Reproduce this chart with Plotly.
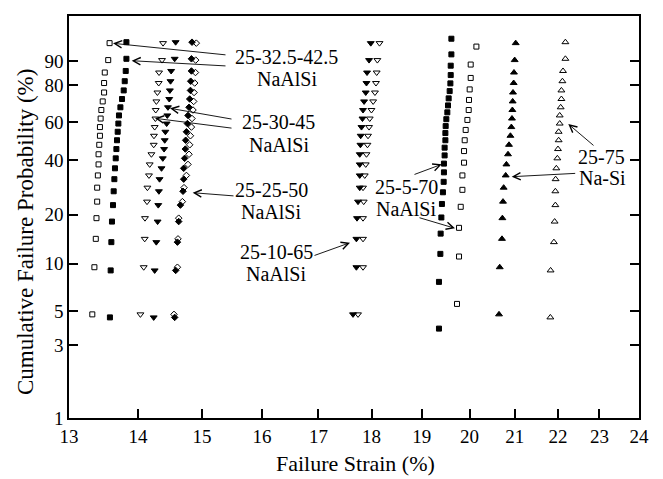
import numpy as np
import plotly.graph_objects as go

# ---------------- data ----------------
# cumulative failure probabilities (%) for the sample sizes used
F17 = [5.56, 11.11, 16.67, 22.22, 27.78, 33.33, 38.89, 44.44, 50.00, 55.56,
       61.11, 66.67, 72.22, 77.78, 83.33, 88.89, 94.44]
F20 = [4.76, 9.52, 14.29, 19.05, 23.81, 28.57, 33.33, 38.10, 42.86, 47.62,
       52.38, 57.14, 61.90, 66.67, 71.43, 76.19, 80.95, 85.71, 90.48, 95.24]
F21 = [4.55, 9.09, 13.64, 18.18, 22.73, 27.27, 31.82, 36.36, 40.91, 45.45,
       50.00, 54.55, 59.09, 63.64, 68.18, 72.73, 77.27, 81.82, 86.36, 90.91, 95.45]
F25 = [3.85, 7.69, 11.54, 15.38, 19.23, 23.08, 26.92, 30.77, 34.62, 38.46,
       42.31, 46.15, 50.00, 53.85, 57.69, 61.54, 65.38, 69.23, 73.08, 76.92,
       80.77, 84.62, 88.46, 92.31, 96.15]

# failure strains (%)
sq_open_a = [13.33, 13.36, 13.38, 13.39, 13.40, 13.40, 13.41, 13.42, 13.42, 13.43,
             13.44, 13.44, 13.45, 13.46, 13.48, 13.50, 13.50, 13.51, 13.56, 13.58]
sq_fill_a = [13.585, 13.596, 13.606, 13.615, 13.630, 13.640, 13.650, 13.659, 13.670, 13.680,
             13.689, 13.699, 13.709, 13.718, 13.739, 13.763, 13.788, 13.803, 13.818, 13.828, 13.828]
tdn_open_a = [14.038, 14.088, 14.103, 14.107, 14.138, 14.144, 14.168, 14.179, 14.205, 14.240,
              14.244, 14.255, 14.266, 14.271, 14.281, 14.297, 14.317, 14.322, 14.368, 14.384]
tdn_fill_a = [14.24, 14.255, 14.28, 14.30, 14.31, 14.32, 14.33, 14.36, 14.38, 14.40,
              14.41, 14.42, 14.44, 14.45, 14.46, 14.48, 14.49, 14.50, 14.51, 14.565, 14.58]
dia_fill = [14.565, 14.581, 14.608, 14.628, 14.655, 14.696, 14.707, 14.707, 14.722, 14.733,
            14.738, 14.750, 14.765, 14.775, 14.791, 14.802, 14.814, 14.818, 14.830, 14.830, 14.839]
dia_open = [14.554, 14.608, 14.617, 14.628, 14.686, 14.712, 14.750, 14.775, 14.791, 14.802,
            14.814, 14.830, 14.839, 14.855, 14.866, 14.872, 14.882, 14.894, 14.898, 14.908]
tdn_fill_b = [17.645, 17.709, 17.709, 17.721, 17.740, 17.773, 17.773, 17.773, 17.773, 17.786,
              17.791, 17.806, 17.825, 17.836, 17.856, 17.888, 17.902, 17.913, 17.952, 17.985]
tdn_open_b = [17.740, 17.836, 17.836, 17.836, 17.849, 17.836, 17.869, 17.888, 17.902, 17.921,
              17.932, 17.952, 17.965, 17.998, 18.031, 18.066, 18.086, 18.100, 18.113, 18.155]
sq_fill_b = [19.354, 19.354, 19.383, 19.389, 19.404, 19.416, 19.437, 19.452, 19.458, 19.458,
             19.472, 19.472, 19.488, 19.488, 19.494, 19.508, 19.529, 19.543, 19.557, 19.578,
             19.593, 19.600, 19.600, 19.614, 19.614]
sq_open_b = [19.733, 19.776, 19.776, 19.812, 19.848, 19.848, 19.883, 19.883, 19.897, 19.918,
             19.955, 19.983, 19.989, 20.004, 20.026, 20.026, 20.149]
tup_fill = [20.645, 20.661, 20.711, 20.720, 20.734, 20.749, 20.794, 20.810, 20.846, 20.868,
            20.900, 20.921, 20.935, 20.944, 20.951, 20.958, 20.973, 20.980, 20.996, 21.019]
tup_open = [21.817, 21.823, 21.901, 21.918, 21.935, 21.935, 21.941, 21.958, 21.982, 21.997,
            22.013, 22.013, 22.038, 22.038, 22.061, 22.078, 22.078, 22.102, 22.116, 22.173, 22.173]

x_ticks = [13, 14, 15, 16, 17, 18, 19, 20, 21, 22, 23, 24]
y_ticks = [1, 3, 5, 10, 20, 40, 60, 80, 90, 99]


def weib(p):
    p = np.asarray(p, dtype=float) / 100.0
    return np.log(-np.log(1.0 - p))


series = [
    (sq_open_a, F20, 'square-open', 5),
    (sq_fill_a, F21, 'square', 5),
    (tdn_open_a, F20, 'triangle-down-open', 6),
    (tdn_fill_a, F21, 'triangle-down', 6),
    (dia_fill, F21, 'diamond', 5),
    (dia_open, F20, 'diamond-open', 5),
    (tdn_fill_b, F20, 'triangle-down', 6),
    (tdn_open_b, F20, 'triangle-down-open', 6),
    (sq_fill_b, F25, 'square', 5),
    (sq_open_b, F17, 'square-open', 5),
    (tup_fill, F20, 'triangle-up', 6),
    (tup_open, F21, 'triangle-up-open', 6),
]

fig = go.Figure()
for xs, fs, sym, sz in series:
    fig.add_trace(go.Scatter(
        x=xs, y=weib(fs), mode='markers',
        marker=dict(symbol=sym, size=sz, color='black', line=dict(color='black', width=1)),
        showlegend=False, hoverinfo='skip'))

# the page body adds an 8 px offset; the figure is sized so that it fills the window
OFF = 8
W, H = 663 - OFF, 479 - OFF
L, R, T, B = 69 - OFF, 24, 16 - OFF, 61
PW, PH = W - L - R, H - T - B
FONT = 'Liberation Serif, Times New Roman, serif'


def paper(px, py):
    # screen pixel -> paper coordinates
    return (px - OFF - L) / PW, (H - B - (py - OFF)) / PH


annotations = []
labels = [
    ('25-32.5-42.5', 286, 57), ('NaAlSi', 287, 79),
    ('25-30-45', 278, 122), ('NaAlSi', 279, 145),
    ('25-25-50', 271, 190), ('NaAlSi', 271, 212),
    ('25-10-65', 276, 252), ('NaAlSi', 276, 274),
    ('25-5-70', 406, 187), ('NaAlSi', 406, 209),
    ('25-75', 601, 157), ('Na-Si', 602, 178),
]
for txt, px, py in labels:
    xp, yp = paper(px, py)
    annotations.append(dict(text=txt, x=xp, y=yp, xref='paper', yref='paper',
                            showarrow=False, xanchor='center', yanchor='middle',
                            font=dict(family=FONT, size=20, color='black')))

arrows = [
    ((227, 55), (113, 43.3)),
    ((227, 66), (131.7, 60.7)),
    ((233, 119.3), (170, 108.3)),
    ((233, 128.3), (155, 118.3)),
    ((235, 196), (192.7, 192.7)),
    ((313, 256), (350, 242.7)),
    ((413, 175), (441.7, 164.3)),
    ((418, 217.3), (455, 228.3)),
    ((595, 146.7), (568.3, 124)),
    ((576.7, 173.3), (511.7, 176.7)),
]
for (tx, ty), (hx, hy) in arrows:
    xp, yp = paper(hx, hy)
    annotations.append(dict(text='', x=xp, y=yp, xref='paper', yref='paper',
                            showarrow=True, ax=tx - hx, ay=ty - hy,
                            axref='pixel', ayref='pixel',
                            arrowhead=5, arrowsize=1.6, arrowwidth=0.9,
                            arrowcolor='black', standoff=0))

# axis titles
xt, yt = paper(355, 463)
annotations.append(dict(text='Failure Strain (%)', x=xt, y=yt, xref='paper', yref='paper',
                        showarrow=False, xanchor='center', yanchor='middle',
                        font=dict(family=FONT, size=22, color='black')))
xt, yt = paper(25, 232)
annotations.append(dict(text='Cumulative Failure Probability (%)', x=xt, y=yt,
                        xref='paper', yref='paper', textangle=-90,
                        showarrow=False, xanchor='center', yanchor='middle',
                        font=dict(family=FONT, size=23, color='black')))

fig.update_layout(
    width=W, height=H,
    margin=dict(l=L, r=R, t=T, b=B, pad=0, autoexpand=False),
    plot_bgcolor='white', paper_bgcolor='white',
    font=dict(family=FONT, size=19, color='black'),
    showlegend=False,
    annotations=annotations,
    xaxis=dict(type='log', range=[np.log10(13), np.log10(24)],
               tickvals=x_ticks, ticktext=[str(v) for v in x_ticks],
               showline=True, linecolor='black', linewidth=1.5, mirror=True,
               ticks='inside', ticklen=9, tickwidth=1.5, tickcolor='black',
               tickfont=dict(family=FONT, size=19, color='black'),
               showgrid=False, zeroline=False, automargin=False),
    yaxis=dict(range=[float(weib(1)), float(weib(99))],
               tickvals=list(weib(y_ticks)), ticktext=[str(v) for v in y_ticks],
               showline=True, linecolor='black', linewidth=1.5, mirror='ticks',
               ticks='inside', ticklen=9, tickwidth=1.5, tickcolor='black',
               tickfont=dict(family=FONT, size=19, color='black'),
               showgrid=False, zeroline=False, automargin=False),
)

fig.write_html('out.html')
